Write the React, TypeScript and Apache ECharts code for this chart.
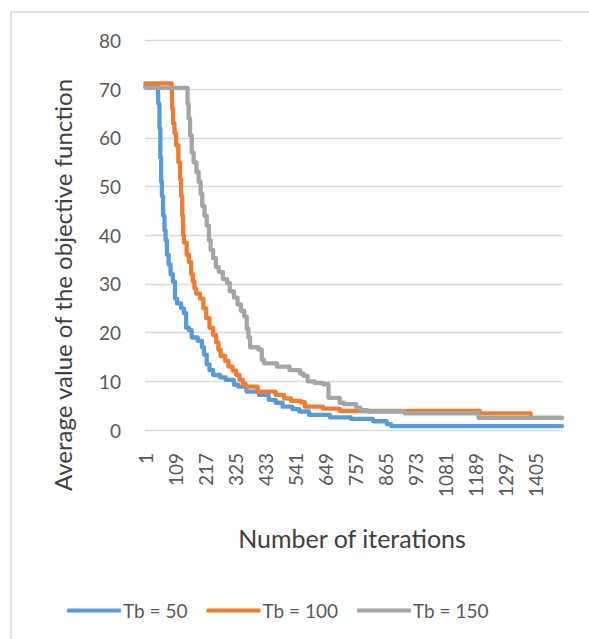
import React, { useEffect, useRef } from "react";
import * as echarts from "echarts";

const X_TICK_LABELS = ["1", "109", "217", "325", "433", "541", "649", "757", "865", "973", "1081", "1189", "1297", "1405"];
const X_TICK_STEP = 108;
const LAST_ITERATION = 1500;
const Y_MIN = 0;
const Y_MAX = 80;
const Y_STEP = 10;

const SERIES_NAMES = ["Tb = 50", "Tb = 100", "Tb = 150"];
const SERIES_COLORS = ["#5B9BD5", "#ED7D31", "#A5A5A5"];

// [iteration, average objective value] at each change of the step curve
const TB50 = [
  [1, 70.6], [46, 70.6], [48, 67], [52, 62], [55, 56], [58, 51], [61, 48], [65, 44], [70, 41], [74, 39],
  [79, 36], [85, 34], [92, 32], [100, 30.5], [108, 27], [115, 26], [130, 25], [140, 24], [148, 21], [158, 20.5],
  [168, 19], [190, 18.3], [205, 17], [212, 15.5], [222, 13.5], [232, 12.3], [245, 11.3], [270, 10.8], [290, 10.3],
  [320, 9.3], [335, 8.9], [365, 7.9], [410, 7.2], [445, 6.2], [470, 5.6], [495, 4.8], [530, 4.3], [555, 3.8],
  [590, 3.1], [665, 2.6], [740, 2.3], [820, 1.8], [870, 1.2], [885, 0.8], [1500, 0.8],
];

const TB100 = [
  [1, 71.2], [96, 71], [98, 66], [101, 63], [106, 61], [112, 58.5], [120, 55], [126, 51.5], [130, 48], [134, 44],
  [137, 40], [140, 38.5], [150, 36], [158, 34.5], [166, 32], [172, 30.5], [178, 29], [184, 28], [198, 27], [210, 25],
  [220, 23], [232, 21], [245, 19.5], [256, 18], [264, 16.5], [272, 15.2], [288, 14.2], [300, 13], [315, 12.2],
  [328, 11.3], [340, 10.3], [352, 9.5], [362, 8.9], [405, 7.9], [470, 7.2], [500, 6.5], [525, 6.0], [560, 5.7],
  [575, 4.8], [640, 4.4], [700, 3.9], [1205, 3.4], [1387, 2.5], [1500, 2.5],
];

const TB150 = [
  [1, 70.3], [150, 70.3], [153, 67], [157, 64], [162, 60.5], [168, 57], [175, 55], [185, 53], [193, 51], [200, 48.5],
  [206, 46], [214, 44], [222, 42], [230, 39], [236, 37], [245, 35.3], [255, 33.5], [265, 32.5], [280, 31], [295, 30.2],
  [305, 28.5], [320, 27.2], [333, 25.8], [345, 24.5], [357, 23.3], [366, 20.8], [372, 19], [378, 17], [408, 16.5],
  [420, 14.4], [428, 13.7], [475, 13], [520, 12.3], [558, 11.6], [570, 11.1], [585, 10], [610, 9.7], [640, 9.4],
  [660, 6.6], [700, 5.6], [715, 5.3], [760, 4.6], [775, 4.1], [800, 3.8], [935, 3.4], [1200, 2.5], [1500, 2.5],
];

const SERIES_DATA = [TB50, TB100, TB150];

const FONT = "Lato, 'Open Sans', sans-serif";
const TEXT_GRAY = "#595959";
const TITLE_GRAY = "#404040";

export default function App() {
  const ref = useRef<HTMLDivElement>(null);

  useEffect(() => {
    if (!ref.current) return;
    const chart = echarts.init(ref.current, null, { renderer: "svg" });
    chart.setOption({
      animation: false,
      backgroundColor: "#ffffff",
      textStyle: { fontFamily: FONT },
      grid: { left: 145, right: 27, top: 40.6, bottom: 209 },
      legend: {
        data: SERIES_NAMES,
        left: 62,
        top: 596,
        icon: "roundRect",
        itemWidth: 54,
        itemHeight: 4,
        itemGap: 19,
        textStyle: { color: TEXT_GRAY, fontSize: 19, fontFamily: FONT, padding: [0, 0, 0, -3] },
      },
      xAxis: {
        type: "value",
        min: 0,
        max: LAST_ITERATION,
        interval: X_TICK_STEP,
        axisLine: { show: false },
        axisTick: { show: false },
        splitLine: { show: false },
        axisLabel: {
          rotate: 90,
          margin: 23,
          color: TEXT_GRAY,
          fontSize: 19,
          fontFamily: FONT,
          showMaxLabel: false,
          formatter: (v: number) => {
            const i = Math.round(v / X_TICK_STEP);
            return Math.abs(v - i * X_TICK_STEP) < 1e-6 && i < X_TICK_LABELS.length ? X_TICK_LABELS[i] : "";
          },
        },
      },
      yAxis: {
        type: "value",
        min: Y_MIN,
        max: Y_MAX,
        interval: Y_STEP,
        axisLine: { show: false },
        axisTick: { show: false },
        splitLine: { lineStyle: { color: "#D9D9D9", width: 1.3 } },
        axisLabel: { color: TEXT_GRAY, fontSize: 19, margin: 24, fontFamily: FONT },
      },
      series: SERIES_NAMES.map((name, i) => ({
        name,
        type: "line",
        step: "end",
        data: SERIES_DATA[i],
        showSymbol: false,
        symbol: "none",
        color: SERIES_COLORS[i],
        lineStyle: { width: 4.3, color: SERIES_COLORS[i], cap: "round", join: "round" },
      })),
      graphic: [
        {
          type: "rect",
          z: -10,
          silent: true,
          shape: { x: 11, y: 12, width: 700, height: 700 },
          style: { fill: "none", stroke: "#D9D9D9", lineWidth: 1.5 },
        },
        {
          type: "text",
          x: 62,
          y: 285,
          rotation: Math.PI / 2,
          style: {
            text: "Average value of the objective function",
            fill: TITLE_GRAY,
            font: `24px ${FONT}`,
            align: "center",
            verticalAlign: "middle",
          },
        },
        {
          type: "text",
          x: 352,
          y: 538,
          style: {
            text: "Number of iterations",
            fill: TITLE_GRAY,
            font: `25px ${FONT}`,
            align: "center",
            verticalAlign: "middle",
          },
        },
      ],
    });
    return () => chart.dispose();
  }, []);

  return (
    <div
      ref={ref}
      style={{ position: "fixed", left: 0, top: 0, width: 589, height: 639, background: "#fff" }}
    />
  );
}
